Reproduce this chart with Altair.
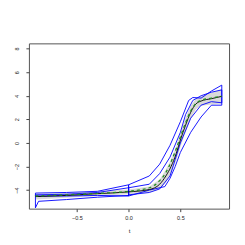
import altair as alt
import pandas as pd

# centre estimate (black), true curve (green dashed), grey band half-width
t_grid = [-0.9, -0.6, -0.3, 0.0, 0.2, 0.3, 0.36, 0.41, 0.46, 0.5, 0.55, 0.6, 0.65, 0.7, 0.8, 0.9]
est = [-4.55, -4.45, -4.3, -4.15, -3.95, -3.5, -2.8, -2.0, -0.9, 0.25, 1.5, 2.6, 3.3, 3.55, 3.75, 3.95]
true = [-4.5, -4.4, -4.28, -4.1, -3.8, -3.2, -2.5, -1.6, -0.5, 0.5, 1.7, 2.7, 3.35, 3.6, 3.8, 3.95]
half = [0.25, 0.2, 0.2, 0.2, 0.25, 0.4, 0.55, 0.6, 0.6, 0.6, 0.6, 0.55, 0.45, 0.4, 0.5, 0.6]

# blue polygons: t and y for each outline (upper left->right, lower right->left, closed)
L1_t = [-0.9, -0.6, -0.3, 0.0, 0.0, -0.3, -0.6, -0.9, -0.9]
L1_y = [-4.25, -4.2, -4.1, -3.55, -4.5, -4.45, -4.5, -4.5, -4.25]
L2_t = [-0.9, -0.6, -0.3, 0.0, 0.0, -0.3, -0.6, -0.87, -0.9, -0.9]
L2_y = [-4.4, -4.35, -4.2, -3.8, -4.45, -4.6, -4.8, -4.95, -5.5, -4.4]
Q1_t = [0.0, 0.2, 0.3, 0.4, 0.5, 0.58, 0.62, 0.7, 0.8, 0.9, 0.9, 0.8, 0.7, 0.6, 0.5, 0.45, 0.4, 0.35, 0.2, 0.0, 0.0]
Q1_y = [-3.55, -2.8, -1.8, -0.2, 1.8, 3.6, 3.85, 3.8, 4.4, 4.9, 3.2, 3.2, 2.2, 0.9, -0.8, -2.0, -3.0, -3.7, -4.0, -4.5, -3.55]
Q2_t = [0.0, 0.2, 0.3, 0.4, 0.5, 0.55, 0.62, 0.7, 0.8, 0.9, 0.9, 0.8, 0.7, 0.6, 0.5, 0.45, 0.4, 0.3, 0.2, 0.0, 0.0]
Q2_y = [-3.8, -3.5, -2.6, -1.2, 0.9, 2.4, 3.6, 4.0, 4.3, 4.5, 3.4, 3.5, 3.2, 2.1, 0.0, -1.4, -2.8, -3.9, -4.2, -4.4, -3.8]

x_ticks = [-0.5, 0.0, 0.5]
y_ticks = [-4, -2, 0, 2, 4, 6, 8]

band = pd.DataFrame({"t": t_grid, "est": est, "true": true,
                     "lo": [e - h for e, h in zip(est, half)],
                     "hi": [e + h for e, h in zip(est, half)]})
rows = []
for name, ts, ys in [("L1", L1_t, L1_y), ("L2", L2_t, L2_y), ("Q1", Q1_t, Q1_y), ("Q2", Q2_t, Q2_y)]:
    for i, (tt, yy) in enumerate(zip(ts, ys)):
        rows.append({"poly": name, "i": i, "t": tt, "y": yy})
polys = pd.DataFrame(rows)

xs = alt.Scale(domain=[-0.963, 0.97], nice=False, zero=False)
ys_ = alt.Scale(domain=[-5.57, 8.44], nice=False, zero=False)
ax_x = alt.Axis(values=x_ticks, format=".1f", title="t", grid=False, domain=False,
                tickSize=3, tickColor="#444", labelFontSize=5.5, labelColor="#222",
                labelPadding=4, titleFontSize=6, titleFontWeight="normal", titlePadding=6,
                titleColor="#222", labelFont="Liberation Sans", titleFont="Liberation Sans",
                labelOverlap=False)
ax_y = alt.Axis(values=y_ticks, format="d", title=None, grid=False, domain=False,
                tickSize=3, tickColor="#444", labelFontSize=5.5, labelColor="#222",
                labelAngle=270, labelAlign="center", labelBaseline="bottom", labelPadding=6,
                labelFont="Liberation Sans", labelOverlap=False, labelBound=False)

base = alt.Chart(band)
area = base.mark_area(color="#d9d9d9", opacity=1).encode(
    x=alt.X("t:Q", scale=xs, axis=ax_x), y=alt.Y("lo:Q", scale=ys_, axis=ax_y), y2="hi:Q")
blue = alt.Chart(polys).mark_line(color="#0000ff", strokeWidth=0.9).encode(
    x=alt.X("t:Q", scale=xs, axis=ax_x), y=alt.Y("y:Q", scale=ys_, axis=ax_y),
    detail="poly:N", order="i:Q")
black = base.mark_line(color="black", strokeWidth=0.9, interpolate="monotone").encode(
    x=alt.X("t:Q", scale=xs, axis=ax_x), y=alt.Y("est:Q", scale=ys_, axis=ax_y))
green = base.mark_line(color="#228b22", strokeWidth=1.3, strokeDash=[3, 3], interpolate="monotone").encode(
    x=alt.X("t:Q", scale=xs, axis=ax_x), y=alt.Y("true:Q", scale=ys_, axis=ax_y))

chart = alt.layer(area, blue, black, green).properties(
    width=201, height=166, autosize=alt.AutoSizeParams(type="none"),
    padding={"left": 21, "top": 35, "right": 8, "bottom": 36},
    background="white"
).configure_view(stroke="#555", strokeWidth=1).configure_axis(labelOverlap=False)

chart.save("out.html", embed_options={"renderer": "svg", "actions": False})
